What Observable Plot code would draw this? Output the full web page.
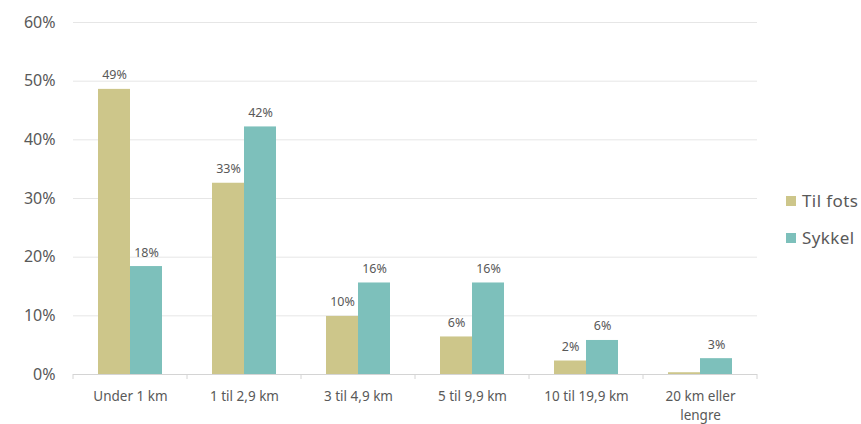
<!DOCTYPE html>
<html>
<head>
<meta charset="utf-8">
<script src="https://cdn.jsdelivr.net/npm/d3@7"></script>
<script src="https://cdn.jsdelivr.net/npm/@observablehq/plot@0.6"></script>
<style>
  html, body { margin: 0; padding: 0; background: #fff; }
  #wrap { position: relative; width: 861px; height: 424px; font-family: "Noto Sans", sans-serif; }
  #legend { position: absolute; left: 786px; top: 182px; color: #595959; font-size: 17px; letter-spacing: 0.4px; }
  .item { display: flex; align-items: center; height: 37px; }
  .sw { width: 10px; height: 10px; margin-right: 6px; }
</style>
</head>
<body>
<div id="wrap"><div id="chart"></div><div id="legend"></div></div>
<script>
const categories = ["Under 1 km", "1 til 2,9 km", "3 til 4,9 km", "5 til 9,9 km", "10 til 19,9 km", "20 km eller lengre"];
const tickLabels = ["Under 1 km", "1 til 2,9 km", "3 til 4,9 km", "5 til 9,9 km", "10 til 19,9 km", "20 km eller\nlengre"];
const series = ["Til fots", "Sykkel"];
const colors = ["#CDC68A", "#7DC0BB"];
const tilFots = [48.6, 32.6, 9.9, 6.4, 2.3, 0.3];
const sykkel = [18.4, 42.2, 15.6, 15.6, 5.8, 2.7];
const tilFotsLabels = ["49%", "33%", "10%", "6%", "2%", ""];
const sykkelLabels = ["18%", "42%", "16%", "16%", "6%", "3%"];
const yTicks = [0, 10, 20, 30, 40, 50, 60];

const data = [];
categories.forEach((c, i) => {
  data.push({category: c, series: series[0], value: tilFots[i], label: tilFotsLabels[i]});
  data.push({category: c, series: series[1], value: sykkel[i], label: sykkelLabels[i]});
});
const labelOf = new Map(categories.map((c, i) => [c, tickLabels[i]]));

const chart = Plot.plot({
  width: 770,
  height: 424,
  marginLeft: 73,
  marginRight: 13,
  marginTop: 22,
  marginBottom: 50,
  style: {fontFamily: "Noto Sans, sans-serif", color: "#595959", background: "transparent"},
  fx: {domain: categories, padding: 0},
  x: {domain: series, paddingInner: 0, paddingOuter: 0.75, axis: null},
  y: {domain: [0, 60]},
  color: {domain: series, range: colors},
  marks: [
    Plot.ruleY(yTicks.slice(1), {stroke: "#e6e6e6", strokeWidth: 1}),
    Plot.ruleY([0], {stroke: "#d4d4d4", strokeWidth: 1}),
    Plot.axisY({ticks: yTicks, tickSize: 0, tickPadding: 18, tickFormat: d => d + "%", fontSize: 16, fill: "#595959", label: null}),
    Plot.axisFx({anchor: "bottom", tickSize: 0, tickPadding: 14, fontSize: 13.5, fill: "#595959", label: null, tickFormat: d => labelOf.get(d), lineHeight: 1.35}),
    Plot.barY(data, {fx: "category", x: "series", y: "value", fill: "series"}),
    Plot.text(data, {fx: "category", x: "series", y: "value", text: "label", lineAnchor: "bottom", dy: -10, fontSize: 12.5, fill: "#595959"})
  ]
});
document.getElementById("chart").appendChild(chart);

// category boundary ticks on the baseline, positioned from the fx and y scales
const fx = chart.scale("fx");
const y = chart.scale("y");
const y0 = y.apply(0);
const bounds = categories.map(c => fx.apply(c)).concat([fx.apply(categories[categories.length - 1]) + fx.bandwidth]);
const g = d3.select(chart).append("g").attr("stroke", "#d4d4d4");
bounds.forEach(b => {
  g.append("line").attr("x1", b).attr("x2", b).attr("y1", y0).attr("y2", y0 + 5);
});

const legend = document.getElementById("legend");
series.forEach((s, i) => {
  const item = document.createElement("div");
  item.className = "item";
  const sw = document.createElement("span");
  sw.className = "sw";
  sw.style.background = colors[i];
  item.appendChild(sw);
  item.appendChild(document.createTextNode(s));
  legend.appendChild(item);
});
</script>
</body>
</html>
